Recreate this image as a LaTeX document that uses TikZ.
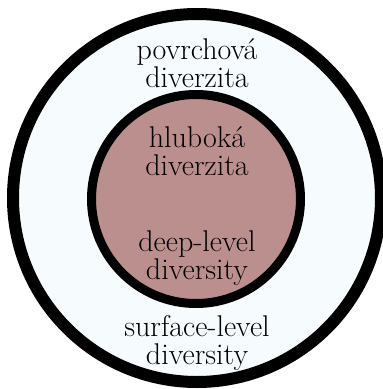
\documentclass[tikz,border=0pt]{standalone}
\usepackage{fontspec}
\definecolor{outerfill}{RGB}{246,251,253}
\definecolor{innerfill}{RGB}{188,143,143}
\begin{document}
\begin{tikzpicture}[x=1pt,y=-1pt,
  lbl/.style={align=center,inner sep=0pt,font=\fontsize{30}{28}\selectfont,text=black}]
\useasboundingbox (0,0) rectangle (383,389);
\begin{scope}
\clip (0,0) rectangle (383,389);
\fill[white] (0,0) rectangle (383,389);
\draw[line width=12pt,fill=outerfill] (197,198) circle[radius=184];
\draw[line width=9pt,fill=innerfill] (196,199) circle[radius=104.5];
\end{scope}
\node[lbl] (surfcz) at (197,63) {povrchová\\diverzita};
\node[lbl] (deepcz) at (197,151) {hluboká\\diverzita};
\node[lbl] (deepen) at (197,258) {deep-level\\diversity};
\node[lbl] (surfen) at (197,343) {surface-level\\diversity};
\end{tikzpicture}
\end{document}
